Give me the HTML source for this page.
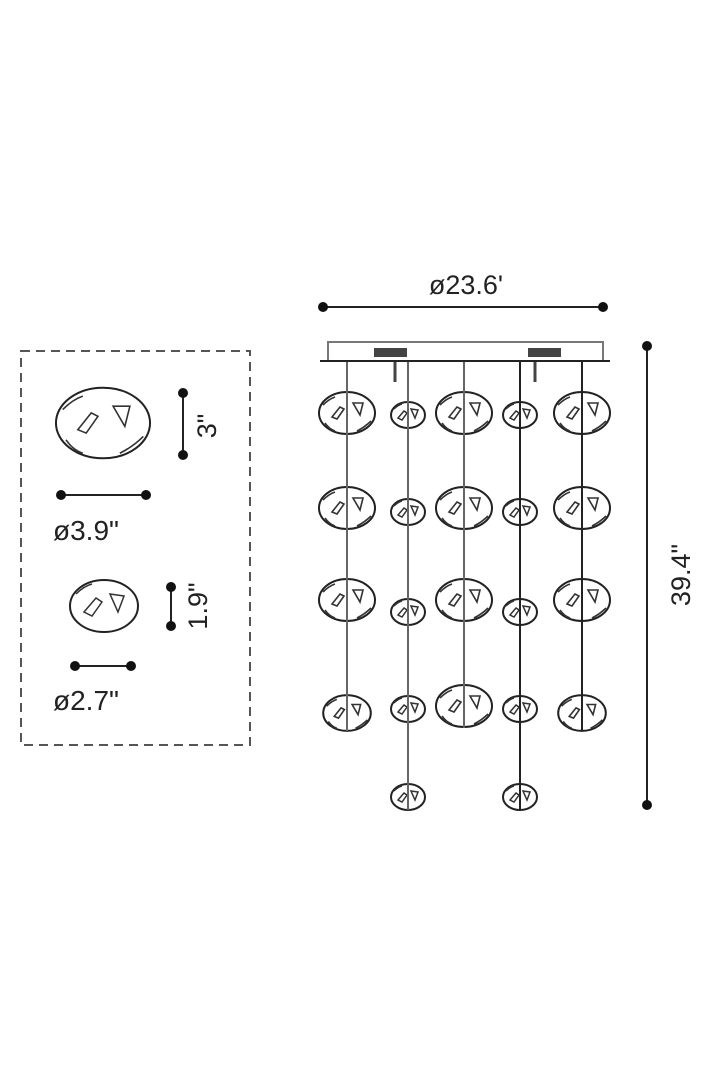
<!DOCTYPE html>
<html><head><meta charset="utf-8"><style>
html,body{margin:0;padding:0;background:#fff}
svg{display:block}
text{font-family:"Liberation Sans",sans-serif;fill:#222}
ellipse,path{vector-effect:non-scaling-stroke}
</style></head><body>
<svg width="702" height="1080" viewBox="0 0 702 1080" xmlns="http://www.w3.org/2000/svg">
<defs>
<g id="big">
<ellipse cx="0" cy="0" rx="28" ry="21" fill="#fff" stroke="#222" stroke-width="2"/>
<path d="M-15 4 l8 -10 l4 2 l-7 10 z M6 -10 l10 0 l-3 12 z M-24 -8 q6 -6 12 -8 M10 18 q8 -4 14 -10 M-22 10 q4 6 10 8" fill="none" stroke="#333" stroke-width="1.6"/>
</g>
<g id="sm">
<ellipse cx="0" cy="0" rx="17" ry="13" fill="#fff" stroke="#222" stroke-width="2"/>
<path d="M-10 3 l6 -7 l3 2 l-5 7 z M3 -6 l7 1 l-3 8 z M-14 -6 q4 -4 8 -5" fill="none" stroke="#333" stroke-width="1.5"/>
</g>
</defs>
<!-- top dim -->
<line x1="323" y1="307" x2="603" y2="307" stroke="#222" stroke-width="2"/>
<circle cx="323" cy="307" r="5" fill="#111"/><circle cx="603" cy="307" r="5" fill="#111"/>
<text x="466" y="294" font-size="27" text-anchor="middle">ø23.6'</text>
<!-- canopy -->
<rect x="328" y="342" width="275" height="19" fill="#fff" stroke="#777" stroke-width="2"/>
<line x1="320" y1="361" x2="610" y2="361" stroke="#222" stroke-width="2"/>
<rect x="374" y="348" width="33" height="9" fill="#444"/>
<rect x="528" y="348" width="33" height="9" fill="#444"/>
<line x1="395" y1="362" x2="395" y2="382" stroke="#444" stroke-width="3"/>
<line x1="535" y1="362" x2="535" y2="382" stroke="#444" stroke-width="3"/>
<!-- balls -->
<use href="#big" x="347" y="413"/><use href="#big" x="464" y="413"/><use href="#big" x="582" y="413"/>
<use href="#big" x="347" y="508"/><use href="#big" x="464" y="508"/><use href="#big" x="582" y="508"/>
<use href="#big" x="347" y="600"/><use href="#big" x="464" y="600"/><use href="#big" x="582" y="600"/>
<use href="#big" x="464" y="706"/>
<g transform="translate(347,713) scale(0.85)"><use href="#big"/></g>
<g transform="translate(582,713) scale(0.85)"><use href="#big"/></g>
<use href="#sm" x="408" y="415"/><use href="#sm" x="520" y="415"/>
<use href="#sm" x="408" y="512"/><use href="#sm" x="520" y="512"/>
<use href="#sm" x="408" y="612"/><use href="#sm" x="520" y="612"/>
<use href="#sm" x="408" y="709"/><use href="#sm" x="520" y="709"/>
<use href="#sm" x="408" y="797"/><use href="#sm" x="520" y="797"/>
<!-- wires -->
<g stroke="#666" stroke-width="2">
<line x1="347" y1="362" x2="347" y2="731"/>
<line x1="408" y1="362" x2="408" y2="810"/>
<line x1="464" y1="362" x2="464" y2="728"/>
<line x1="520" y1="362" x2="520" y2="810" stroke="#222"/>
<line x1="582" y1="362" x2="582" y2="731" stroke="#222"/>
</g>
<!-- right dim -->
<line x1="647" y1="346" x2="647" y2="805" stroke="#222" stroke-width="2"/>
<circle cx="647" cy="346" r="5" fill="#111"/><circle cx="647" cy="805" r="5" fill="#111"/>
<text x="0" y="0" font-size="27" text-anchor="middle" transform="translate(690,575) rotate(-90)">39.4"</text>
<!-- left box -->
<rect x="21" y="351" width="229" height="394" fill="none" stroke="#555" stroke-width="2" stroke-dasharray="9 6"/>
<g transform="translate(103,423) scale(1.68)"><use href="#big"/></g>
<line x1="183" y1="393" x2="183" y2="455" stroke="#222" stroke-width="2"/>
<circle cx="183" cy="393" r="5" fill="#111"/><circle cx="183" cy="455" r="5" fill="#111"/>
<text font-size="27" text-anchor="middle" transform="translate(216,426) rotate(-90)">3"</text>
<line x1="61" y1="495" x2="146" y2="495" stroke="#222" stroke-width="2"/>
<circle cx="61" cy="495" r="5" fill="#111"/><circle cx="146" cy="495" r="5" fill="#111"/>
<text x="53" y="540" font-size="28">ø3.9"</text>
<g transform="translate(104,606) scale(2)"><use href="#sm"/></g>
<line x1="171" y1="587" x2="171" y2="626" stroke="#222" stroke-width="2"/>
<circle cx="171" cy="587" r="5" fill="#111"/><circle cx="171" cy="626" r="5" fill="#111"/>
<text font-size="27" text-anchor="middle" transform="translate(207,606) rotate(-90)">1.9"</text>
<line x1="75" y1="666" x2="131" y2="666" stroke="#222" stroke-width="2"/>
<circle cx="75" cy="666" r="5" fill="#111"/><circle cx="131" cy="666" r="5" fill="#111"/>
<text x="53" y="710" font-size="28">ø2.7"</text>
</svg>
</body></html>
